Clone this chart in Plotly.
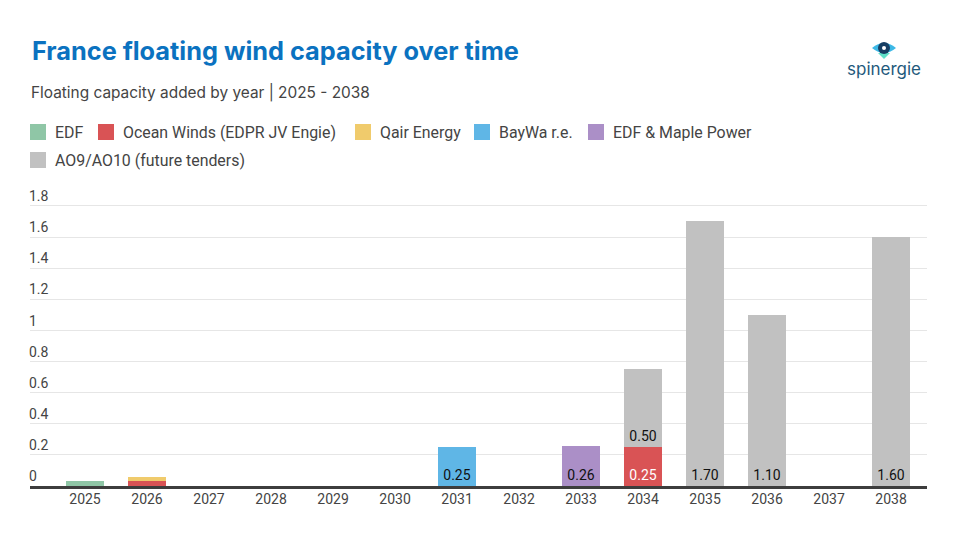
import plotly.graph_objects as go

years = ["2025", "2026", "2027", "2028", "2029", "2030", "2031", "2032",
         "2033", "2034", "2035", "2036", "2037", "2038"]

series_names = ["EDF", "Ocean Winds (EDPR JV Engie)", "Qair Energy", "BayWa r.e.",
                "EDF & Maple Power", "AO9/AO10 (future tenders)"]
series_colors = ["#8fc6a6", "#d95355", "#f0cb6c", "#5fb6e6", "#ab8fc7", "#c1c1c1"]
label_colors = ["#111111", "#ffffff", "#111111", "#111111", "#111111", "#111111"]

edf = [0.03, 0, 0, 0, 0, 0, 0, 0, 0, 0, 0, 0, 0, 0]
ocean_winds = [0, 0.03, 0, 0, 0, 0, 0, 0, 0, 0.25, 0, 0, 0, 0]
qair = [0, 0.03, 0, 0, 0, 0, 0, 0, 0, 0, 0, 0, 0, 0]
baywa = [0, 0, 0, 0, 0, 0, 0.25, 0, 0, 0, 0, 0, 0, 0]
edf_maple = [0, 0, 0, 0, 0, 0, 0, 0, 0.26, 0, 0, 0, 0, 0]
ao9_ao10 = [0, 0, 0, 0, 0, 0, 0, 0, 0, 0.50, 1.70, 1.10, 0, 1.60]

series_values = [edf, ocean_winds, qair, baywa, edf_maple, ao9_ao10]

tick_vals = [0, 0.2, 0.4, 0.6, 0.8, 1, 1.2, 1.4, 1.6, 1.8]
tick_text = ["0", "0.2", "0.4", "0.6", "0.8", "1", "1.2", "1.4", "1.6", "1.8"]

# ---- layout geometry (pixels) ----
W, H = 970, 537
PL, PR, PT, PB = 30, 927, 172, 486   # plot area edges
PX_PER_UNIT = 155.6


def px_x(px):
    return (px - PL) / (PR - PL)


def px_y(py):
    return (PB - py) / (PB - PT)


fig = go.Figure()
for name, color, lc, vals in zip(series_names, series_colors, label_colors, series_values):
    text = [f"{v:.2f}" if v >= 0.2 else "" for v in vals]
    fig.add_trace(go.Bar(
        x=years, y=vals, name=name,
        marker=dict(color=color, line=dict(width=0)),
        text=text, textposition="inside", insidetextanchor="start",
        textangle=0,
        textfont=dict(family="Roboto", size=14, color=lc),
        constraintext="none",
        hoverinfo="x+y+name",
        showlegend=False,
    ))

# Title, subtitle
fig.add_annotation(text="<b>France floating wind capacity over time</b>",
                   xref="paper", yref="paper", x=px_x(30), y=px_y(50),
                   xanchor="left", yanchor="middle", showarrow=False,
                   font=dict(family="Inter", size=25.3, color="#0b72c0"))
fig.add_annotation(text="Floating capacity added by year | 2025 - 2038",
                   xref="paper", yref="paper", x=px_x(29), y=px_y(92),
                   xanchor="left", yanchor="middle", showarrow=False,
                   font=dict(family="Inter", size=15.4, color="#444444"))

# Legend (drawn from series names / colours), two rows like the original
legend_rows = [0, 0, 0, 0, 0, 1]
legend_x = [30, 98, 355, 474, 588, 30]       # swatch left edge in px
legend_row_y = [132, 160]                    # row centre in px
for name, color, row, lx in zip(series_names, series_colors, legend_rows, legend_x):
    cy = legend_row_y[row]
    fig.add_shape(type="rect", xref="paper", yref="paper",
                  x0=px_x(lx), x1=px_x(lx + 16), y0=px_y(cy + 8), y1=px_y(cy - 8),
                  fillcolor=color, line=dict(width=0), layer="above")
    fig.add_annotation(text=name, xref="paper", yref="paper",
                       x=px_x(lx + 23), y=px_y(cy), xanchor="left", yanchor="middle",
                       showarrow=False,
                       font=dict(family="Roboto", size=15.9, color="#444444"))

fig.update_layout(
    width=W, height=H,
    margin=dict(l=PL, r=W - PR, t=PT, b=H - PB),
    paper_bgcolor="white", plot_bgcolor="white",
    barmode="stack", bargap=0.387,
    font=dict(family="Roboto", size=14, color="#333333"),
    showlegend=False,
)

fig.update_xaxes(type="category", range=[-0.887, 13.58],
                 showgrid=False, showline=True, linecolor="#3d3d3d", linewidth=2.5,
                 ticks="", ticklabelstandoff=-2,
                 tickfont=dict(family="Roboto", size=14, color="#444444"),
                 fixedrange=True)
fig.update_yaxes(range=[0, (PB - PT) / PX_PER_UNIT], tickvals=tick_vals, ticktext=tick_text,
                 ticklabelposition="inside top", ticks="", ticklabelstandoff=-4,
                 showgrid=True, gridcolor="#e6e6e6", gridwidth=1,
                 zeroline=False, showline=False,
                 tickfont=dict(family="Roboto", size=14, color="#444444"),
                 fixedrange=True)

# spinergie logo
cx, cy = 884, 48
fig.add_shape(type="path", xref="paper", yref="paper", xsizemode="pixel", ysizemode="pixel",
              xanchor=px_x(cx), yanchor=px_y(cy),
              path="M -12 0 Q 0 10 12 0 Q 0 -10 -12 0 Z",
              fillcolor="#3cb8e6", line=dict(width=0))
fig.add_shape(type="path", xref="paper", yref="paper", xsizemode="pixel", ysizemode="pixel",
              xanchor=px_x(cx), yanchor=px_y(cy),
              path="M -6 -5 L 6 -5 L 0 -11 Z",
              fillcolor="#5fe0c8", line=dict(width=0))
fig.add_shape(type="circle", xref="paper", yref="paper", xsizemode="pixel", ysizemode="pixel",
              xanchor=px_x(cx), yanchor=px_y(cy),
              x0=-6, x1=6, y0=-6, y1=6,
              fillcolor="#173e63", line=dict(width=0))
fig.add_shape(type="circle", xref="paper", yref="paper", xsizemode="pixel", ysizemode="pixel",
              xanchor=px_x(cx), yanchor=px_y(cy),
              x0=-2, x1=2, y0=-2, y1=2,
              fillcolor="#ffffff", line=dict(width=0))
fig.add_annotation(text="spinergie", xref="paper", yref="paper", x=px_x(cx), y=px_y(69),
                   yanchor="middle", xanchor="center", showarrow=False,
                   font=dict(family="Inter", size=17, color="#1f5a7c"))

fig.write_html("out.html")
